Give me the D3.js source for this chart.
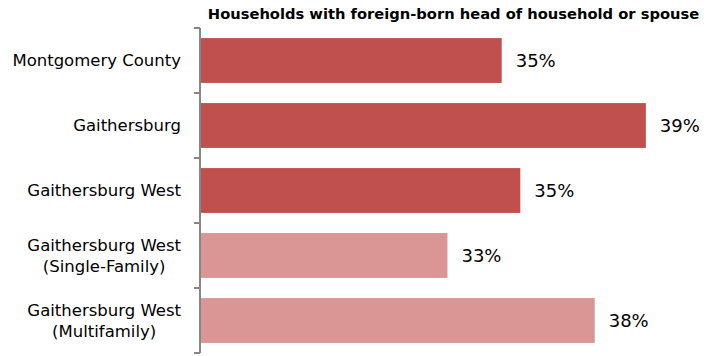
<!DOCTYPE html>
<html>
<head>
<meta charset="utf-8">
<script src="https://cdn.jsdelivr.net/npm/d3@7"></script>
<style>
  html, body { margin: 0; padding: 0; background: #fff; }
  svg { display: block; }
  text { font-family: "DejaVu Sans", "Open Sans", sans-serif; fill: #000; }
</style>
</head>
<body>
<svg id="chart" width="719" height="356"></svg>
<script>
// Share of households with a foreign-born head of household or spouse
const categories = [
  ["Montgomery County"],
  ["Gaithersburg"],
  ["Gaithersburg West"],
  ["Gaithersburg West", "(Single-Family)"],
  ["Gaithersburg West", "(Multifamily)"]
];
const shares = [0.347, 0.3935, 0.353, 0.3295, 0.377];
const tiers = ["area", "area", "area", "housing", "housing"];
const title = "Households with foreign-born head of household or spouse";

const svg = d3.select("#chart");
const margin = { top: 28, left: 201, bottom: 3 };
const H = 356;

const keys = categories.map(c => c.join(" "));
const y = d3.scaleBand().domain(keys).range([margin.top, H - margin.bottom]).paddingInner(0.31).paddingOuter(0.155);
const x = d3.scaleLinear().domain([0.25, 0.40]).range([margin.left, 666]);
const color = d3.scaleOrdinal().domain(["area", "housing"]).range(["#C0504D", "#D99694"]);
const fmt = d3.format(".0%");

svg.append("text")
  .attr("x", 453.5).attr("y", 19)
  .attr("text-anchor", "middle")
  .attr("font-weight", "bold")
  .attr("font-size", 14.7)
  .text(title);

// bars
svg.append("g").selectAll("rect")
  .data(shares)
  .join("rect")
  .attr("x", x(0.25))
  .attr("y", (d, i) => y(keys[i]))
  .attr("width", d => x(d) - x(0.25))
  .attr("height", y.bandwidth())
  .attr("fill", (d, i) => color(tiers[i]));

// value labels
svg.append("g").selectAll("text")
  .data(shares)
  .join("text")
  .attr("x", d => x(d) + 14)
  .attr("y", (d, i) => y(keys[i]) + y.bandwidth() / 2)
  .attr("dy", "0.36em")
  .attr("font-size", 18)
  .text(d => fmt(d));

// category axis with ticks between bands
const step = y.step();
const axisG = svg.append("g");
axisG.append("line")
  .attr("x1", 200).attr("x2", 200)
  .attr("y1", margin.top).attr("y2", H - margin.bottom)
  .attr("stroke", "#868686").attr("stroke-width", 2);
axisG.selectAll("line.tick")
  .data(d3.range(keys.length + 1))
  .join("line")
  .attr("class", "tick")
  .attr("x1", 194).attr("x2", 200)
  .attr("y1", i => margin.top + i * step)
  .attr("y2", i => margin.top + i * step)
  .attr("stroke", "#868686").attr("stroke-width", 2);

// category labels: lines centred on each other, block right-aligned
const labelRight = 181;
const lineH = 21;
categories.forEach((lines, i) => {
  const g = svg.append("g");
  const cy = y(keys[i]) + y.bandwidth() / 2;
  const t = g.selectAll("text").data(lines).join("text")
    .attr("font-size", 16.5)
    .attr("text-anchor", "middle")
    .attr("y", (d, j) => cy + (j - (lines.length - 1) / 2) * lineH)
    .attr("dy", "0.36em")
    .text(d => d);
  const w = d3.max(t.nodes(), n => n.getComputedTextLength());
  t.attr("x", labelRight - w / 2);
});
</script>
</body>
</html>
